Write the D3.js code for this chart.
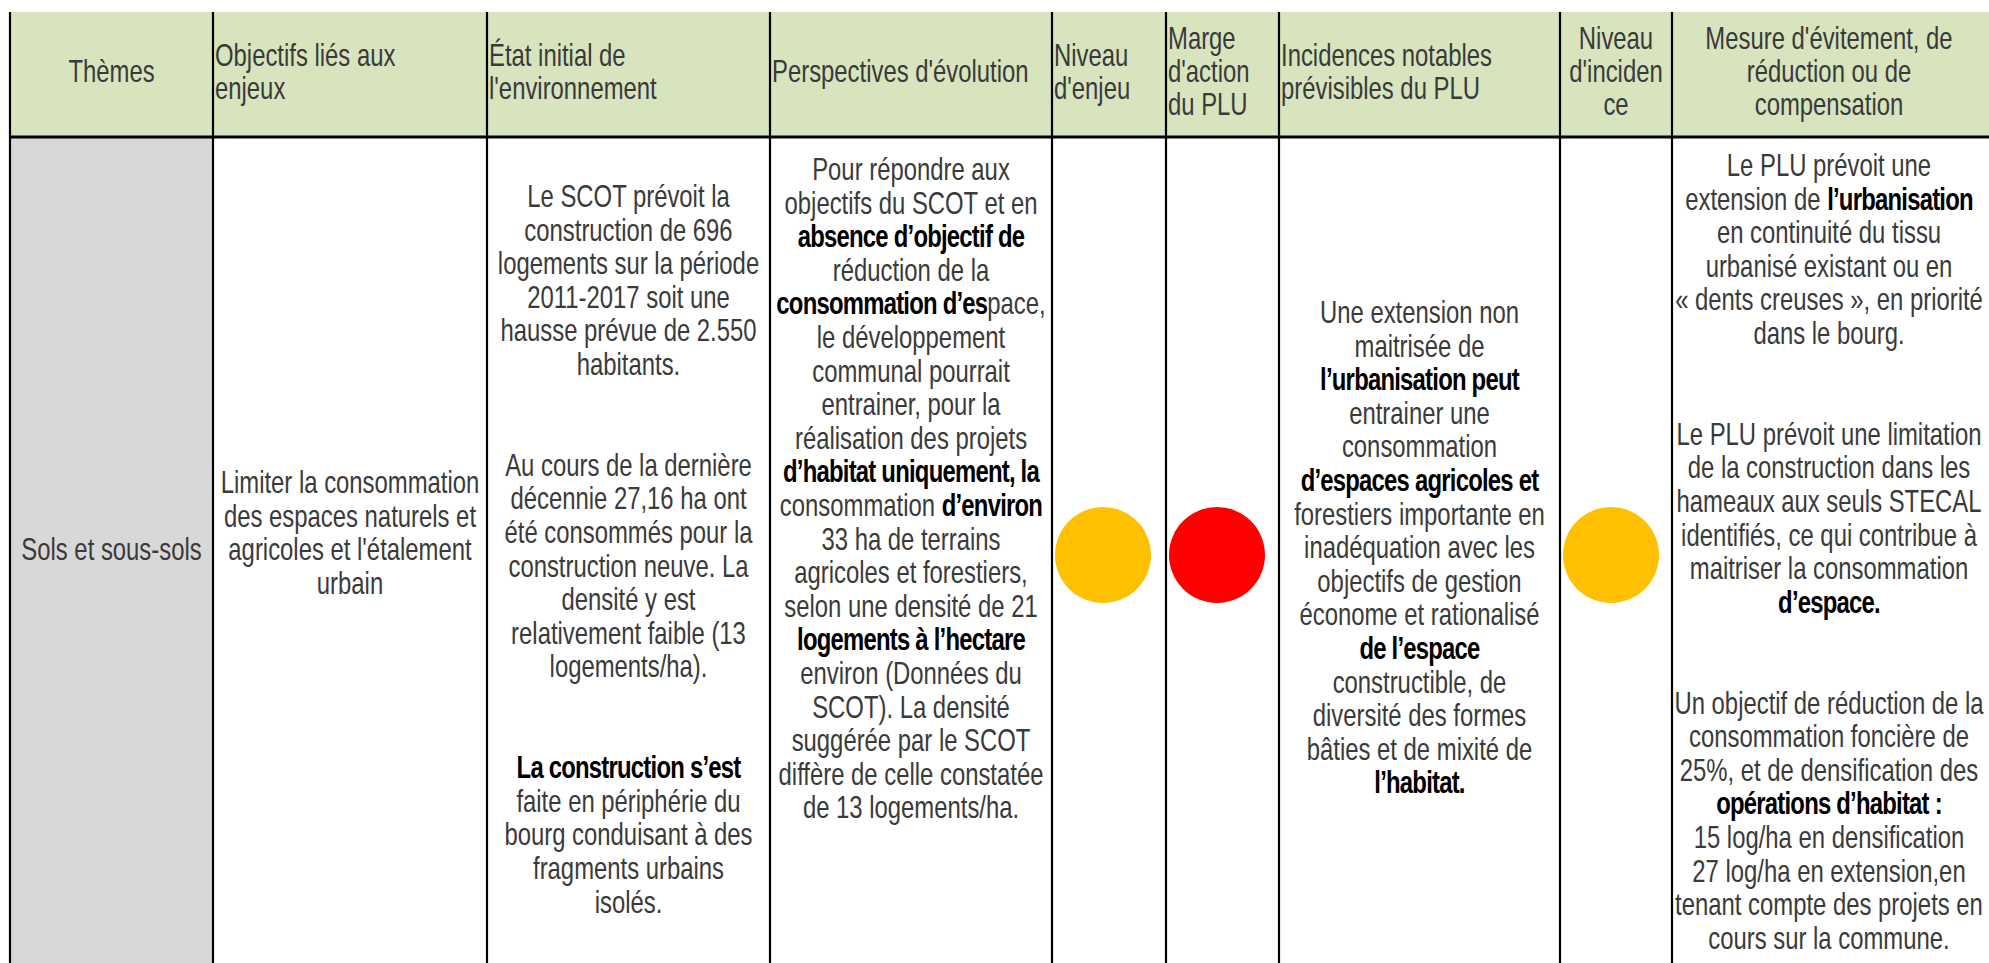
<!DOCTYPE html>
<html><head><meta charset="utf-8">
<script src="https://cdn.jsdelivr.net/npm/d3@7"></script>
<style>html,body{margin:0;padding:0;background:#fff;overflow:hidden}</style>
</head><body><svg id="c" width="1989" height="963"></svg>
<script>
// ---------- DATA ----------
const columnKeys = ["theme","objectif","etat","perspective","enjeu","marge","incidence","niveauIncidence","mesure"];
const headerLines = [
  ["Thèmes"],
  ["Objectifs liés aux","enjeux"],
  ["État initial de","l'environnement"],
  ["Perspectives d'évolution"],
  ["Niveau","d'enjeu"],
  ["Marge","d'action","du PLU"],
  ["Incidences notables","prévisibles du PLU"],
  ["Niveau","d'inciden","ce"],
  ["Mesure d'évitement, de","réduction ou de","compensation"]
];
const themeLines = ["Sols et sous-sols"];
const objectifLines = ["Limiter la consommation","des espaces naturels et","agricoles et l'étalement","urbain"];
const etatLines = ["Le SCOT prévoit la","construction de 696","logements sur la période","2011-2017 soit une","hausse prévue de 2.550","habitants.","","",
  "Au cours de la dernière","décennie 27,16 ha ont","été consommés pour la","construction neuve. La","densité y est","relativement faible (13","logements/ha).","","",
  "**La construction s’est**","faite en périphérie du","bourg conduisant à des","fragments urbains","isolés."];
const perspectiveLines = ["Pour répondre aux","objectifs du SCOT et en","**absence d’objectif de**","réduction de la","**consommation d’es**pace,","le développement","communal pourrait","entrainer, pour la","réalisation des projets","**d’habitat uniquement, la**","consommation **d’environ**","33 ha de terrains","agricoles et forestiers,","selon une densité de 21","**logements à l’hectare**","environ (Données du","SCOT). La densité","suggérée par le SCOT","diffère de celle constatée","de 13 logements/ha."];
const incidenceLines = ["Une extension non","maitrisée de","**l’urbanisation peut**","entrainer une","consommation","**d’espaces agricoles et**","forestiers importante en","inadéquation avec les","objectifs de gestion","économe et rationalisé","**de l’espace**","constructible, de","diversité des formes","bâties et de mixité de","**l’habitat.**"];
const mesureLines = ["Le PLU prévoit une","extension de **l’urbanisation**","en continuité du tissu","urbanisé existant ou en","« dents creuses », en priorité","dans le bourg.","","",
  "Le PLU prévoit une limitation","de la construction dans les","hameaux aux seuls STECAL","identifiés, ce qui contribue à","maitriser la consommation","**d’espace.**","","",
  "Un objectif de réduction de la","consommation foncière de","25%, et de densification des","**opérations d’habitat :**","15 log/ha en densification","27 log/ha en extension,en","tenant compte des projets en","cours sur la commune."];
const levelColumns = ["enjeu","marge","niveauIncidence"];
const levelValues = ["moyen","fort","moyen"];
const levelNames = ["moyen","fort"];
const levelColors = ["#FFC000","#FF0000"];

// ---------- LAYOUT ----------
const W = 1989, H = 963;
const colEdges = [10,213,487,770,1052,1166,1279,1560,1672,1998];
const tableTop = 12, headerBottom = 137;
const fontSize = 31, sx = 0.77, lineH = 33.6, baseOff = 11;
const headerAlign = ["middle","start","start","start","start","start","start","middle","middle"];
const bodyCells = [
  {key:"theme", lines: themeLines, y0: 549, cx: 111.5},
  {key:"objectif", lines: objectifLines, y0: 482},
  {key:"etat", lines: etatLines, y0: 196},
  {key:"perspective", lines: perspectiveLines, y0: 169},
  {key:"incidence", lines: incidenceLines, y0: 312},
  {key:"mesure", lines: mesureLines, y0: 165, cx: 1829}
];

const xLeft = d3.scaleOrdinal().domain(columnKeys).range(colEdges.slice(0,-1));
const xRight = d3.scaleOrdinal().domain(columnKeys).range(colEdges.slice(1));
const color = d3.scaleOrdinal().domain(levelNames).range(levelColors);

const svg = d3.select("#c");
svg.append("rect").attr("width",W).attr("height",H).attr("fill","#fff");

svg.append("rect").attr("x",colEdges[0]).attr("y",tableTop)
  .attr("width",colEdges[colEdges.length-1]-colEdges[0]).attr("height",headerBottom-tableTop)
  .attr("fill","#D7E4BD");
svg.append("rect").attr("x",xLeft("theme")).attr("y",headerBottom)
  .attr("width",xRight("theme")-xLeft("theme")).attr("height",H-headerBottom)
  .attr("fill","#D8D8D8");

function parseSegments(line){
  const parts = line.split("**");
  return parts.map((t,i)=>({t, b: i%2===1})).filter(s=>s.t.length);
}
function drawLine(g, ax, y, anchor, line){
  const grp = g.append("g").attr("transform",`translate(${ax},${y+baseOff}) scale(${sx},1)`);
  const t = grp.append("text").attr("x",0).attr("y",0)
    .attr("text-anchor",anchor)
    .attr("font-family","'Liberation Sans', Arial, sans-serif")
    .attr("font-size",fontSize)
    .attr("fill","#3a3a3a");
  parseSegments(line).forEach(s=>{
    const ts = t.append("tspan").text(s.t);
    if(s.b) ts.attr("font-weight","bold").attr("fill","#000").attr("letter-spacing",-1);
  });
}

// headers
const hdr = svg.append("g");
const headerCenter = 71, headerLineH = 33;
headerLines.forEach((lines,i)=>{
  const key = columnKeys[i];
  const anchor = headerAlign[i];
  let ax = anchor==="middle" ? (xLeft(key)+xRight(key))/2 : xLeft(key)+2;
  if(key==="mesure") ax = 1829;
  const y0 = headerCenter - (lines.length-1)*headerLineH/2;
  lines.forEach((ln,j)=>drawLine(hdr, ax, y0+j*headerLineH, anchor, ln));
});

// body text
const body = svg.append("g");
bodyCells.forEach(c=>{
  const ax = c.cx !== undefined ? c.cx : (xLeft(c.key)+xRight(c.key))/2;
  c.lines.forEach((ln,j)=>{ if(ln) drawLine(body, ax, c.y0 + j*lineH, "middle", ln); });
});

// level circles
const r = 48, cy = 555;
svg.append("g").selectAll("circle").data(levelColumns.map((k,i)=>({k, v: levelValues[i]})))
  .join("circle")
  .attr("cx",d=>xLeft(d.k)+3+r).attr("cy",cy).attr("r",r)
  .attr("fill",d=>color(d.v));

// grid lines
const grid = svg.append("g").attr("stroke","#000");
colEdges.forEach(x=>{
  grid.append("line").attr("x1",x).attr("x2",x).attr("y1",tableTop).attr("y2",H).attr("stroke-width",2.2);
});
grid.append("line").attr("x1",colEdges[0]-1).attr("x2",colEdges[colEdges.length-1]).attr("y1",headerBottom).attr("y2",headerBottom).attr("stroke-width",3);
</script></body></html>
